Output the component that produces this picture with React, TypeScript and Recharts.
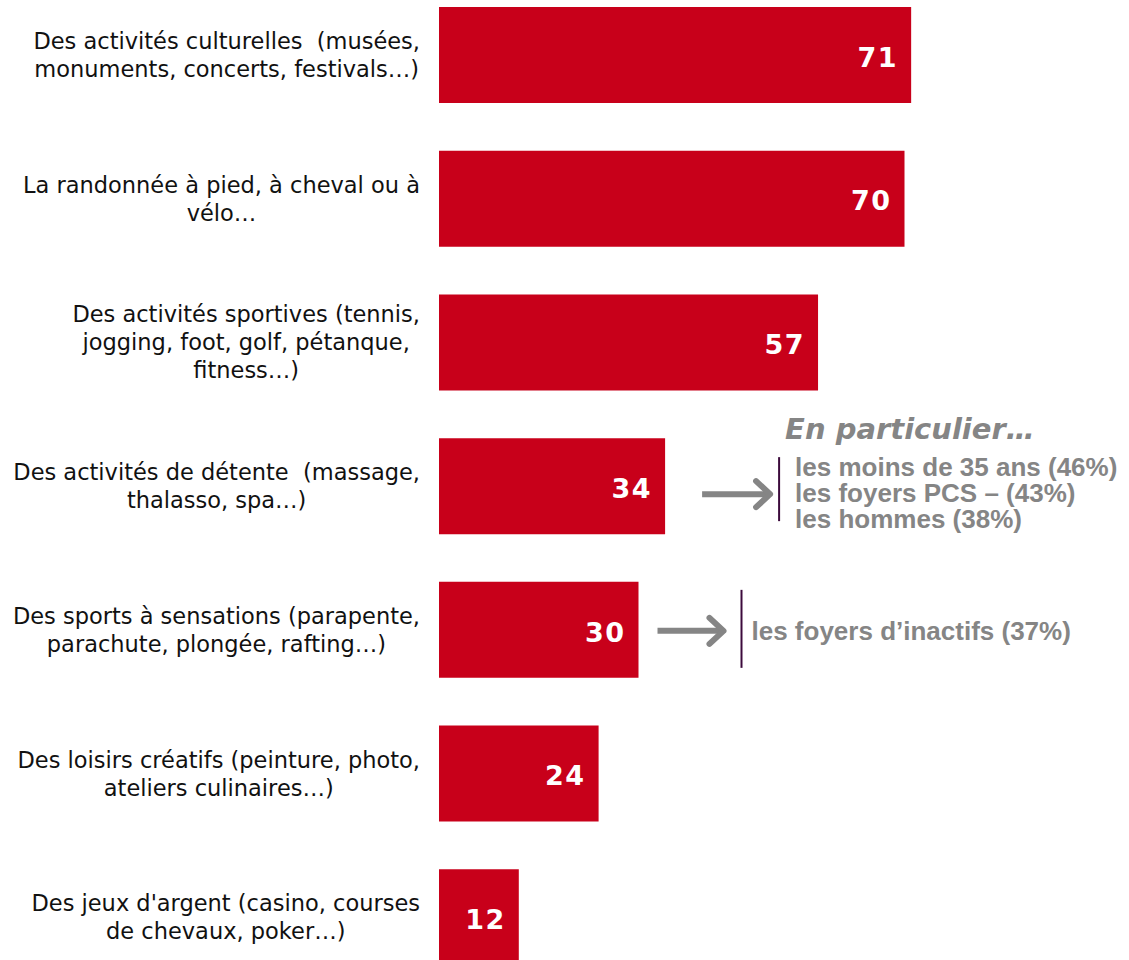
import React from "react";
import { Bar, BarChart, LabelList, XAxis, YAxis } from "recharts";

// Chart values
const categories = [
  "Des activités culturelles  (musées,\nmonuments, concerts, festivals…)",
  "La randonnée à pied, à cheval ou à\nvélo…",
  "Des activités sportives (tennis,\njogging, foot, golf, pétanque,\nfitness…)",
  "Des activités de détente  (massage,\nthalasso, spa…)",
  "Des sports à sensations (parapente,\nparachute, plongée, rafting…)",
  "Des loisirs créatifs (peinture, photo,\nateliers culinaires…)",
  "Des jeux d'argent (casino, courses\nde chevaux, poker…)",
];
const values = [71, 70, 57, 34, 30, 24, 12];

// Callouts attached to some bars (by category index)
const calloutHeading = "En particulier…";
const callout4 = ["les moins de 35 ans (46%)", "les foyers PCS – (43%)", "les hommes (38%)"];
const callout5 = ["les foyers d’inactifs (37%)"];

const RED = "#C8001A";
const GREY = "#858585";
const PURPLE = "#3C0A3C";
const LABEL_FONT = "'DejaVu Sans', Verdana, sans-serif";
const CALLOUT_FONT = "'Liberation Sans', Arial, sans-serif";
const LABEL_SIZE = 22.5;

const chartData = categories.map((name, i) => ({ name, value: values[i] }));

let ctx: CanvasRenderingContext2D | null = null;
function textWidth(text: string, font: string) {
  if (!ctx) ctx = document.createElement("canvas").getContext("2d");
  if (!ctx) return text.length * 11;
  ctx.font = font;
  return ctx.measureText(text).width;
}

// multi-line category label: block right aligned, lines centered in the block
const CategoryTick = (props: any) => {
  const { x, y, payload } = props;
  const lines: string[] = String(payload.value).split("\n");
  const lineH = 28;
  const maxW = Math.max(...lines.map((l) => textWidth(l, `${LABEL_SIZE}px ${LABEL_FONT}`)));
  const cx = x - 11 - maxW / 2;
  const top = y - ((lines.length - 1) * lineH) / 2;
  return (
    <g>
      {lines.map((l, i) => (
        <text
          key={i}
          x={cx}
          y={top + i * lineH}
          dy="0.36em"
          textAnchor="middle"
          fontFamily={LABEL_FONT}
          fontSize={LABEL_SIZE}
          fill="#111"
          style={{ whiteSpace: "pre" }}
        >
          {l}
        </text>
      ))}
    </g>
  );
};

const ValueLabel = (props: any) => {
  const { x, y, width, height, value } = props;
  return (
    <text
      x={x + width - 13}
      y={y + height / 2 + 2}
      dy="0.36em"
      textAnchor="end"
      fontFamily={LABEL_FONT}
      fontWeight="bold"
      fontSize={27}
      letterSpacing={1.5}
      fill="#fff"
    >
      {value}
    </text>
  );
};

const Arrow = ({ x1, x2, y }: { x1: number; x2: number; y: number }) => (
  <g stroke={GREY} strokeWidth={6} strokeLinecap="round" strokeLinejoin="round" fill="none">
    <line x1={x1} y1={y} x2={x2 - 3} y2={y} strokeLinecap="butt" />
    <polyline points={`${x2 - 14},${y - 13} ${x2},${y} ${x2 - 14},${y + 13}`} />
  </g>
);

const Callouts = (props: any) => {
  const { x, y, width, height, index } = props;
  const end = x + width;
  const cy = y + height / 2;
  if (index === 3) {
    return (
      <g>
        <Arrow x1={end + 37} x2={end + 105} y={cy + 8} />
        <line x1={end + 114} y1={cy - 29} x2={end + 114} y2={cy + 35} stroke={PURPLE} strokeWidth={2} />
        <text
          x={end + 120}
          y={cy - 58}
          dy="0.36em"
          fontFamily={LABEL_FONT}
          fontWeight="bold"
          fontStyle="italic"
          fontSize={29}
          fill={GREY}
        >
          {calloutHeading}
        </text>
        {callout4.map((t, i) => (
          <text
            key={i}
            x={end + 130}
            y={cy - 20 + i * 26}
            dy="0.36em"
            fontFamily={CALLOUT_FONT}
            fontWeight="bold"
            fontSize={26}
            fill={GREY}
          >
            {t}
          </text>
        ))}
      </g>
    );
  }
  if (index === 4) {
    return (
      <g>
        <Arrow x1={end + 19} x2={end + 85} y={cy + 1} />
        <line x1={end + 103} y1={cy - 40} x2={end + 103} y2={cy + 38} stroke={PURPLE} strokeWidth={2} />
        {callout5.map((t, i) => (
          <text
            key={i}
            x={end + 113}
            y={cy + 1 + i * 26}
            dy="0.36em"
            fontFamily={CALLOUT_FONT}
            fontWeight="bold"
            fontSize={26}
            fill={GREY}
          >
            {t}
          </text>
        ))}
      </g>
    );
  }
  return null;
};

export default function App() {
  return (
    <div
      style={{
        position: "fixed",
        top: 0,
        left: 0,
        width: 1129,
        height: 960,
        overflow: "hidden",
        background: "#fff",
      }}
    >
      <div style={{ marginTop: -17 }}>
        <BarChart
          layout="vertical"
          width={1129}
          height={1006}
          data={chartData}
          margin={{ top: 0, right: 25, bottom: 0, left: 0 }}
        >
          <XAxis type="number" domain={[0, 100]} hide />
          <YAxis
            type="category"
            dataKey="name"
            width={439}
            axisLine={false}
            tickLine={false}
            tick={<CategoryTick />}
            interval={0}
          />
          <Bar dataKey="value" fill={RED} barSize={96} isAnimationActive={false}>
            <LabelList dataKey="value" content={<ValueLabel />} />
            <LabelList dataKey="value" content={<Callouts />} />
          </Bar>
        </BarChart>
      </div>
    </div>
  );
}
